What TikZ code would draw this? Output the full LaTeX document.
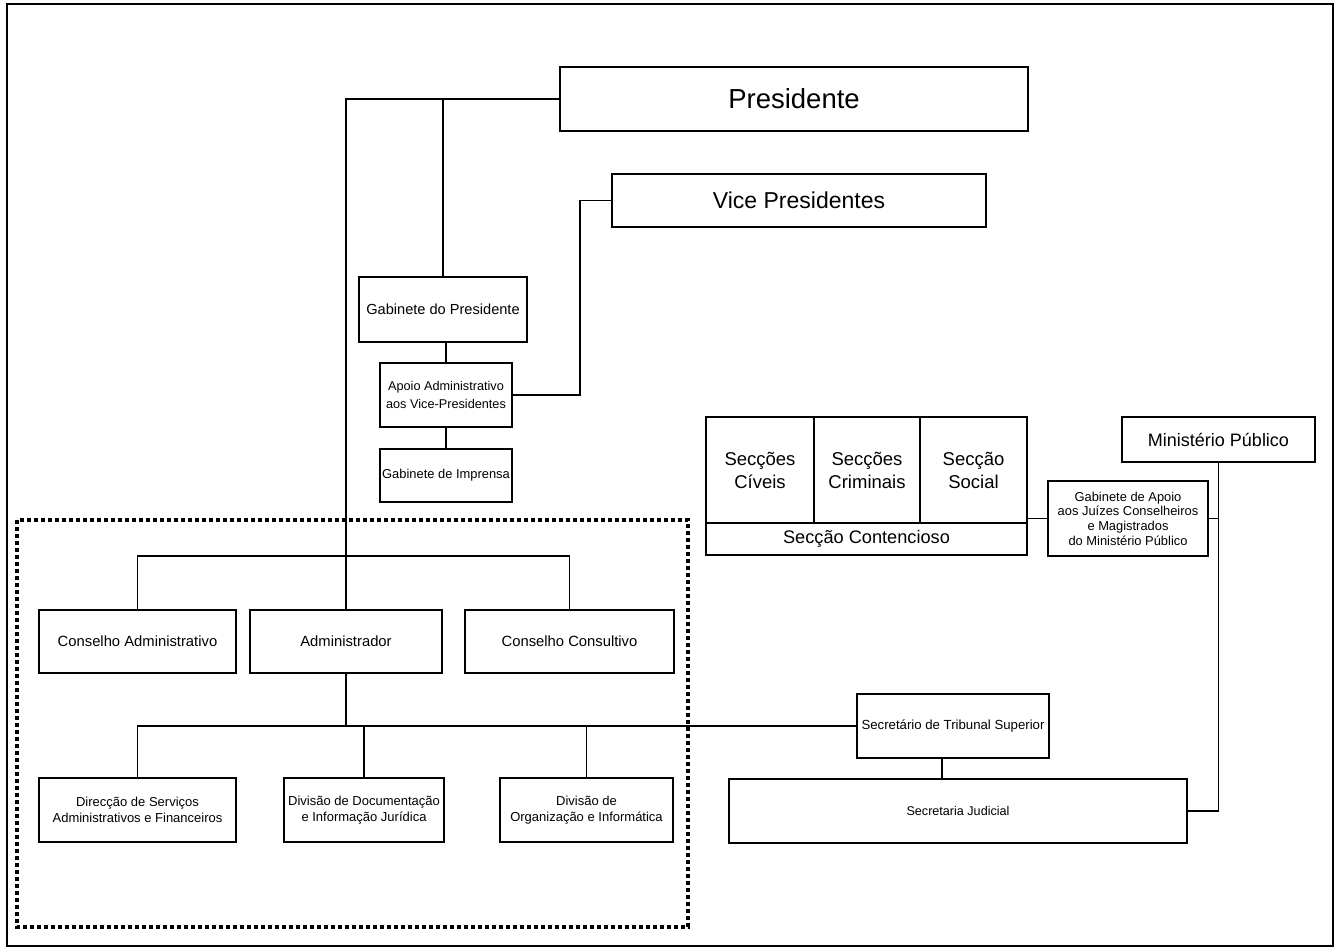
\documentclass[tikz,border=0pt]{standalone}
\usepackage{fontspec}
\setmainfont{Liberation Sans}
\begin{document}
\begin{tikzpicture}[x=1pt,y=-1pt,
  box/.style={draw, line width=1.2pt, inner sep=0pt, outer sep=0pt, align=center, anchor=north west},
  conn/.style={line width=1.2pt},
  fs/.style 2 args={font=\fontsize{#1}{#2}\selectfont}]
\useasboundingbox (0,0) rectangle (1340,951);
\draw[line width=1.6pt] (7,4) rectangle (1333,946);
\draw[line width=4pt, dash pattern=on 4pt off 3pt] (17,520) rectangle (688,927);

% top
\node[box, minimum width=468pt, minimum height=64pt, fs={27.5}{32}] (pres) at (560,67) {Presidente};
\node[box, minimum width=374pt, minimum height=53pt, fs={23}{27}] (vice) at (612,174) {Vice Presidentes};
\node[box, minimum width=168pt, minimum height=65pt, fs={14.6}{17}] (gp) at (359,277) {Gabinete do Presidente};
\node[box, minimum width=132pt, minimum height=64pt, fs={12.7}{17.5}] (apoio) at (380,363) {Apoio Administrativo\\aos Vice-Presidentes};
\node[box, minimum width=132pt, minimum height=53pt, fs={12.9}{15}] (impr) at (380,449) {Gabinete de Imprensa};

% seccoes block
\node[box, minimum width=108pt, minimum height=106pt, fs={18.5}{23}] (civ) at (706,417) {Secções\\Cíveis};
\node[box, minimum width=106pt, minimum height=106pt, fs={18.5}{23}] (crim) at (814,417) {Secções\\Criminais};
\node[box, minimum width=107pt, minimum height=106pt, fs={18.5}{23}] (soc) at (920,417) {Secção\\Social};
\node[box, minimum width=321pt, minimum height=32pt, fs={18.2}{21}] (cont) at (706,523) {Secção Contencioso};
\node[box, minimum width=193pt, minimum height=45pt, fs={18}{21}] (mp) at (1122,417) {Ministério Público};
\node[box, minimum width=160pt, minimum height=75pt, fs={12.9}{14.7}] (ga) at (1048,481) {Gabinete de Apoio\\aos Juízes Conselheiros\\e Magistrados\\do Ministério Público};

% administration
\node[box, minimum width=197pt, minimum height=63pt, fs={14.8}{17}] (ca) at (39,610) {Conselho Administrativo};
\node[box, minimum width=192pt, minimum height=63pt, fs={14.8}{17}] (adm) at (250,610) {Administrador};
\node[box, minimum width=209pt, minimum height=63pt, fs={14.8}{17}] (cc) at (465,610) {Conselho Consultivo};
\node[box, minimum width=197pt, minimum height=64pt, fs={13}{15.5}] (dir) at (39,778) {Direcção de Serviços\\Administrativos e Financeiros};
\node[box, minimum width=160pt, minimum height=64pt, fs={13}{15.5}] (doc) at (284,778) {Divisão de Documentação\\e Informação Jurídica};
\node[box, minimum width=173pt, minimum height=64pt, fs={13}{15.5}] (org) at (500,778) {Divisão de\\Organização e Informática};
\node[box, minimum width=192pt, minimum height=64pt, fs={13.2}{15.5}] (sec) at (857,694) {Secretário de Tribunal Superior};
\node[box, minimum width=458pt, minimum height=64pt, fs={12.6}{15}] (sj) at (729,779) {Secretaria Judicial};

\coordinate (vx) at (580,0);
\coordinate (cbar) at (0,556);
\coordinate (abar) at (0,726);
\coordinate (sx) at (942,0);

% connectors
\draw[conn] (pres.west) -| (adm.north);
\draw[conn] (gp.north) -- (gp.north |- pres.west);
\draw[conn] (apoio.north) -- (apoio.north |- gp.south);
\draw[conn] (apoio.south) -- (impr.north);
\draw[conn] (vice.west) -- (vice.west -| vx) |- (apoio.east);
\draw[conn] (ca.north) -- (ca.north |- cbar) -- (cc.north |- cbar) -- (cc.north);
\draw[conn] (adm.south) -- (adm.south |- abar);
\draw[conn] (dir.north) -- (dir.north |- abar) -- (sec.west);
\draw[conn] (doc.north) -- (doc.north |- abar);
\draw[conn] (org.north) -- (org.north |- abar);
\draw[conn] (sec.south -| sx) -- (sj.north -| sx);
\draw[conn] (mp.south) |- (sj.east);
\draw[conn] (soc.east |- ga.west) -- (ga.west);
\draw[conn] (ga.east) -- (ga.east -| mp.south);
\end{tikzpicture}
\end{document}
